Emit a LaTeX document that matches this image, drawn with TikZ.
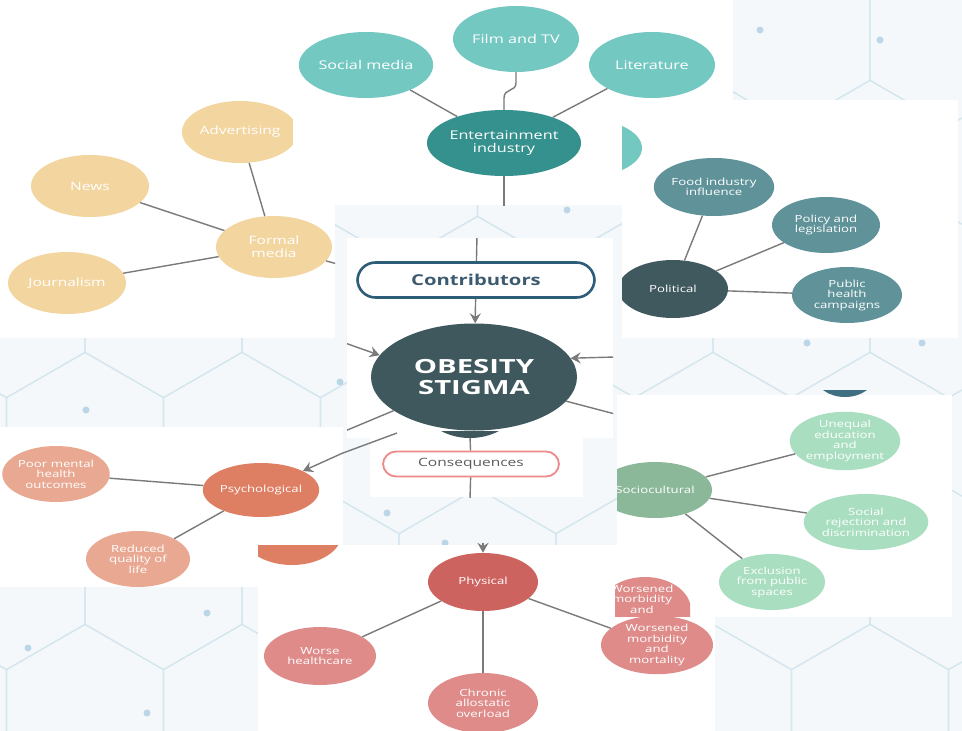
\documentclass[tikz,border=0pt]{standalone}
\usepackage{fontspec}
\setmainfont{Open Sans}
\newfontfamily\wide{Open Sans}[FakeStretch=1.35]
\newfontfamily\wider{Open Sans}[FakeStretch=1.5]
\usetikzlibrary{shapes.geometric,arrows.meta}

\definecolor{tealA}{HTML}{74C8C2}
\definecolor{tealB}{HTML}{35918D}
\definecolor{tanA}{HTML}{F3D5A0}
\definecolor{polA}{HTML}{5F9399}
\definecolor{polB}{HTML}{3F595E}
\definecolor{obesC}{HTML}{3F585D}
\definecolor{contribC}{HTML}{2E5D7A}
\definecolor{contribT}{HTML}{3D5B70}
\definecolor{conseqC}{HTML}{EF8888}
\definecolor{conseqT}{HTML}{5B5B5B}
\definecolor{psyB}{HTML}{DE7E62}
\definecolor{psyA}{HTML}{E9A892}
\definecolor{phyB}{HTML}{CC635F}
\definecolor{phyA}{HTML}{DE8B89}
\definecolor{socB}{HTML}{8BB899}
\definecolor{socA}{HTML}{A9DFC0}
\definecolor{linkC}{HTML}{7A7A7A}
\definecolor{patBg}{HTML}{F4F8FB}
\definecolor{hexC}{HTML}{D5E6EF}
\definecolor{dotC}{HTML}{BBD7E7}
\definecolor{sliverC}{HTML}{3F6F80}

\tikzset{
  bub/.style={ellipse, inner sep=0pt, align=center, text=white},
  fent/.style={font=\wide\fontsize{12}{13.5}\selectfont},
  ffm/.style={font=\wide\fontsize{11.5}{13}\selectfont},
  fsm/.style={font=\wide\fontsize{9.8}{10.5}\selectfont},
  link/.style={draw=linkC, line width=1.4pt},
  arr/.style={draw=linkC, line width=1.4pt, -{Stealth[length=10pt,width=11pt,inset=3.5pt]}},
  hexline/.style={draw=hexC, line width=1.2pt},
  panelbg/.style={fill=white},
}

\begin{document}
\begin{tikzpicture}[x=1pt,y=-1pt]
\useasboundingbox (0,0) rectangle (962,731);

% light hexagonal backdrop
\fill[patBg] (0,0) rectangle (962,731);
\foreach \j in {-4,...,3}{
  \foreach \i in {-1,...,6}{
    \pgfmathsetmacro\cx{85+157*\i+78.5*mod(\j+4,2)}
    \pgfmathsetmacro\cy{443+136*\j}
    \draw[hexline] (\cx-78.5,\cy-45.3) -- (\cx,\cy-90.6) -- (\cx+78.5,\cy-45.3)
      -- (\cx+78.5,\cy+45.3) -- (\cx,\cy+90.6) -- (\cx-78.5,\cy+45.3) -- cycle;
  }}
\foreach \p in {(86,410),(340,382),(807,343),(922,343),(387,513),(445,543),(207,613),(147,713),(28,648),(567,210),(880,40),(760,30)}
  \fill[dotC] \p circle (3.5);

% ---------- formal media ----------
\begin{scope}
\clip (0,0) rectangle (335,338);
\fill[panelbg] (0,0) rectangle (335,338);
\node[bub, fill=tanA, minimum width=116, minimum height=62, ffm] (adv) at (240,132) {Advertising};
\node[bub, fill=tanA, minimum width=118, minimum height=62, ffm] (news) at (90,186) {News};
\node[bub, fill=tanA, minimum width=116, minimum height=62, ffm] (fm) at (274,247) {Formal\\media};
\node[bub, fill=tanA, minimum width=118, minimum height=62, ffm] (jour) at (67,283) {Journalism};
\coordinate (fmr) at (345,266);
\draw[link] (adv) -- (fm);
\draw[link] (news) -- (fm);
\draw[link] (jour) -- (fm);
\draw[link] (fm) -- (fmr);
\end{scope}

% ---------- entertainment ----------
\begin{scope}
\clip (293,0) rectangle (733,205);
\fill[panelbg] (293,0) rectangle (733,205);
\node[bub, fill=tealA, minimum width=126, minimum height=66, fent] (smed) at (366,65) {Social media};
\node[bub, fill=tealA, minimum width=126, minimum height=66, fent] (film) at (516,39) {Film and TV};
\node[bub, fill=tealA, minimum width=126, minimum height=66, fent] (lit) at (652,65) {Literature};
\node[bub, fill=tealB, minimum width=128, minimum height=66, fent] (ent) at (504,143) {Entertainment\\industry};
\coordinate (w1) at (516,83);
\coordinate (w2) at (504,98);
\coordinate (entdown) at (504,210);
\draw[link] (smed) -- (ent);
\draw[link] (lit) -- (ent);
\draw[link] (film) -- (w1) .. controls (516,92) and (504,88) .. (w2) -- (ent);
\draw[link] (ent) -- (entdown);
\end{scope}

% ---------- political ----------
\begin{scope}
\clip (622,100) rectangle (958,338);
\fill[panelbg] (622,100) rectangle (958,338);
\fill[tealA] (580,148) ellipse [x radius=62, y radius=30];
\node[bub, fill=polA, minimum width=110, minimum height=58, fsm] (food) at (714,187) {Food industry\\influence};
\node[bub, fill=polA, minimum width=108, minimum height=56, fsm] (poli) at (826,225) {Policy and\\legislation};
\node[bub, fill=polA, minimum width=110, minimum height=56, fsm] (pub) at (847,295) {Public\\health\\campaigns};
\node[bub, fill=polB, minimum width=110, minimum height=58, fsm] (pol) at (673,289) {Political};
\draw[link] (pol) -- (food);
\draw[link] (pol) -- (poli);
\draw[link] (pol) -- (pub);
\end{scope}

% ---------- centre ----------
\begin{scope}
\clip (347,238) rectangle (613,438);
\fill[panelbg] (347,238) rectangle (613,438);
\node[draw=contribC, line width=2.6pt, rounded corners=18pt, minimum width=237, minimum height=35, inner sep=0pt,
      text=contribT, font=\wide\bfseries\fontsize{15}{17}\selectfont] (contr) at (476,280) {Contributors};
\node[bub, fill=obesC, minimum width=206, minimum height=107,
      font=\wider\bfseries\fontsize{19.5}{21}\selectfont] (ob) at (474,377) {OBESITY\\STIGMA};
\coordinate (ctop) at (477,236);
\coordinate (la) at (345,343);
\coordinate (ra) at (615,357);
\coordinate (ll) at (345,431);
\coordinate (rl) at (615,414);
\draw[link] (ctop) -- (contr);
\draw[arr] (contr) -- (ob);
\draw[arr] (la) -- (ob.167);
\draw[arr] (ra) -- (ob.11);
\draw[link] (ob) -- (ll);
\draw[link] (ob) -- (rl);
\end{scope}
\begin{scope}
\clip (347,431) rectangle (613,438);
\fill[panelbg] (347,431) rectangle (613,438);
\fill[obesC] (470,400) ellipse [x radius=50, y radius=38];
\end{scope}

% ---------- consequences ----------
\begin{scope}
\clip (370,438) rectangle (583,497);
\fill[panelbg] (370,438) rectangle (583,497);
\node[draw=conseqC, line width=1.8pt, rounded corners=13pt, minimum width=176, minimum height=25, inner sep=0pt,
      text=conseqT, font=\wide\fontsize{11.5}{13}\selectfont] (cons) at (471,464) {Consequences};
\coordinate (c1) at (470,436);
\coordinate (c2) at (470,499);
\draw[link] (c1) -- (cons);
\draw[link] (cons) -- (c2);
\end{scope}
\coordinate (f1) at (343,453);
\coordinate (f2) at (397,433);
\draw[link] (f1) -- (f2);

% ---------- psychological ----------
\begin{scope}
\clip (0,427) rectangle (343,587);
\fill[panelbg] (0,427) rectangle (343,587);
\node[bub, fill=psyA, minimum width=104, minimum height=56, fsm] (poor) at (56,474) {Poor mental\\health\\outcomes};
\node[bub, fill=psyB, minimum width=106, minimum height=54, fsm] (psy) at (261,490) {Psychological};
\node[bub, fill=psyA, minimum width=104, minimum height=56, fsm] (red) at (138,559) {Reduced\\quality of\\life};
\coordinate (pa) at (345,452);
\draw[link] (poor) -- (psy);
\draw[link] (psy) -- (red);
\draw[arr] (pa) -- (psy);
\end{scope}

% ---------- sociocultural ----------
\begin{scope}
\clip (617,395) rectangle (952,617);
\fill[panelbg] (617,395) rectangle (952,617);
\node[bub, fill=socB, minimum width=114, minimum height=56, fsm] (soc) at (655,490) {Sociocultural};
\node[bub, fill=socA, minimum width=106, minimum height=54, fsm] (uneq) at (845,441) {Unequal\\education\\and\\employment};
\node[bub, fill=socA, minimum width=106, minimum height=56, fsm] (srej) at (866,522) {Social\\rejection and\\discrimination};
\node[bub, fill=socA, minimum width=106, minimum height=56, fsm] (excl) at (772,582) {Exclusion\\from public\\spaces};
\draw[link] (soc) -- (uneq);
\draw[link] (soc) -- (srej);
\draw[link] (soc) -- (excl);
\end{scope}
\begin{scope}
\clip (800,390) rectangle (900,397);
\fill[sliverC] (845,375) ellipse [x radius=30, y radius=22];
\end{scope}

% ---------- physical ----------
\begin{scope}
\clip (258,545) rectangle (715,731);
\fill[panelbg] (258,545) rectangle (715,731);
\fill[psyB] (292,533) ellipse [x radius=50, y radius=32];
\node[bub, fill=phyB, minimum width=110, minimum height=58, fsm] (phys) at (483,582) {Physical};
\node[bub, fill=phyA, minimum width=112, minimum height=58, fsm] (whc) at (320,656) {Worse\\healthcare};
\node[bub, fill=phyA, minimum width=110, minimum height=60, fsm] (chr) at (483,703) {Chronic\\allostatic\\overload};
\node[bub, fill=phyA, minimum width=112, minimum height=58, fsm] (wmm) at (657,645) {Worsened\\morbidity\\and\\mortality};
\draw[link] (phys) -- (whc);
\draw[link] (phys) -- (chr);
\draw[link] (phys) -- (wmm);
\end{scope}
\coordinate (pin) at (483,543);
\draw[arr] (pin) -- (phys);

\begin{scope}
\clip (615,577) rectangle (690,616);
\fill[panelbg] (615,577) rectangle (690,616);
\node[bub, fill=phyA, minimum width=92, minimum height=66, fsm] (wmm2) at (645,610) {};
\node[text=white, align=center, fsm, inner sep=0pt] (wmmt) at (642,599) {Worsened\\morbidity\\and};
\end{scope}

\end{tikzpicture}
\end{document}
